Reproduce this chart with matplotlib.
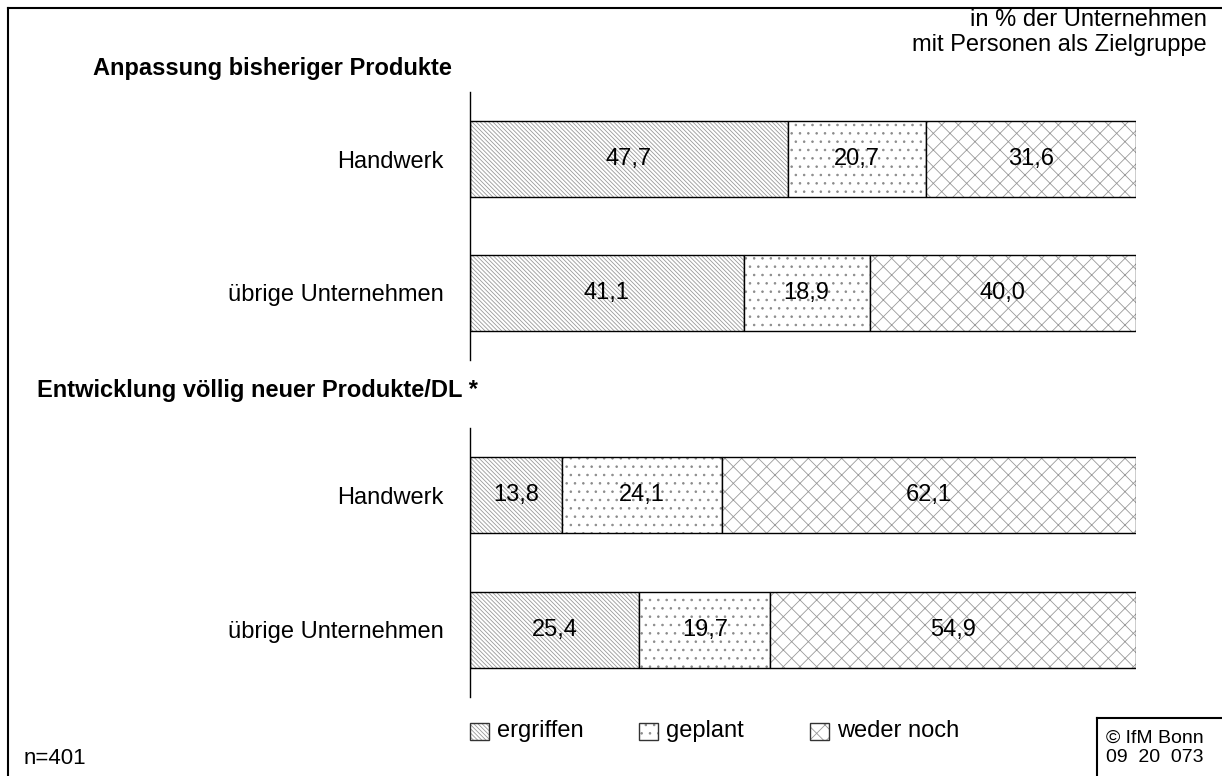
import matplotlib
matplotlib.use("Agg")
import matplotlib.pyplot as plt
from matplotlib.patches import Rectangle
from matplotlib.lines import Line2D

plt.rcParams["font.family"] = ["Liberation Sans", "DejaVu Sans"]
plt.rcParams["hatch.linewidth"] = 0.6

W, H = 1222, 776

# data
groups = ["Anpassung bisheriger Produkte", "Entwicklung völlig neuer Produkte/DL *"]
rows = ["Handwerk", "übrige Unternehmen"]
series = ["ergriffen", "geplant", "weder noch"]
ergriffen = [[47.7, 41.1], [13.8, 25.4]]
geplant = [[20.7, 18.9], [24.1, 19.7]]
weder_noch = [[31.6, 40.0], [62.1, 54.9]]

hatches = ["\\" * 8, "..", "xx"]
hatch_colors = ["#999999", "#8a8a8a", "#9a9a9a"]


def fx(x):
    return x / W


def fy(y):
    return 1 - y / H


fig = plt.figure(figsize=(W / 100, H / 100), dpi=100)

# axes blocks (top, bottom in pixels) and group title positions
blocks = [(92, 360), (428, 697)]
title_pos = [(93, 68), (37, 390)]

for g, (top, bottom) in enumerate(blocks):
    ax = fig.add_axes([fx(470), fy(bottom), fx(1136) - fx(470), (bottom - top) / H])
    ypos = list(range(len(rows)))
    left = [0.0] * len(rows)
    for s, vals in enumerate([ergriffen[g], geplant[g], weder_noch[g]]):
        # hatch layer
        ax.barh(ypos, vals, left=left, height=0.567, color="white",
                edgecolor=hatch_colors[s], linewidth=0, hatch=hatches[s])
        # outline layer
        bars = ax.barh(ypos, vals, left=left, height=0.567, fill=False,
                       edgecolor="black", linewidth=1.0)
        ax.bar_label(bars, labels=[f"{v:.1f}".replace(".", ",") for v in vals],
                     label_type="center", fontsize=17)
        left = [l + v for l, v in zip(left, vals)]
    ax.set_xlim(0, 100)
    ax.set_ylim(1.5, -0.5)
    ax.set_yticks(ypos, rows, fontsize=17)
    ax.tick_params(axis="y", length=0, pad=19)
    ax.set_xticks([])
    for sp in ["top", "right", "bottom"]:
        ax.spines[sp].set_visible(False)
    ax.spines["left"].set_linewidth(1.0)
    tx, ty = title_pos[g]
    fig.text(fx(tx), fy(ty), groups[g], fontsize=17, fontweight="bold",
             ha="left", va="center")

# note top right
fig.text(fx(1207), fy(20), "in % der Unternehmen", fontsize=17, ha="right", va="center")
fig.text(fx(1207), fy(45), "mit Personen als Zielgruppe", fontsize=17, ha="right", va="center")

# legend
leg_x = [470, 639, 810]
for s, name in enumerate(series):
    x0 = leg_x[s]
    fig.patches.append(Rectangle((fx(x0), fy(740)), 19 / W, 17 / H, transform=fig.transFigure,
                                 facecolor="white", edgecolor=hatch_colors[s], linewidth=0,
                                 hatch=hatches[s]))
    fig.patches.append(Rectangle((fx(x0), fy(740)), 19 / W, 17 / H, transform=fig.transFigure,
                                 fill=False, edgecolor="#333333", linewidth=1.0))
    fig.text(fx(x0 + 27), fy(731), name, fontsize=17, ha="left", va="center")

fig.text(fx(24), fy(758), "n=401", fontsize=16, ha="left", va="center")
fig.text(fx(1106), fy(738), "© IfM Bonn", fontsize=14, ha="left", va="center")
fig.text(fx(1106), fy(758), "09  20  073", fontsize=14, ha="left", va="center")

# frame lines
fig.add_artist(Line2D([fx(8), fx(8)], [fy(8), 0], color="black", linewidth=1.5))
fig.add_artist(Line2D([fx(8), 1], [fy(8), fy(8)], color="black", linewidth=1.5))
fig.add_artist(Line2D([fx(1097), fx(1097)], [fy(718), 0], color="black", linewidth=1.5))
fig.add_artist(Line2D([fx(1097), 1], [fy(718), fy(718)], color="black", linewidth=1.5))

fig.savefig("out.png", dpi=100)
